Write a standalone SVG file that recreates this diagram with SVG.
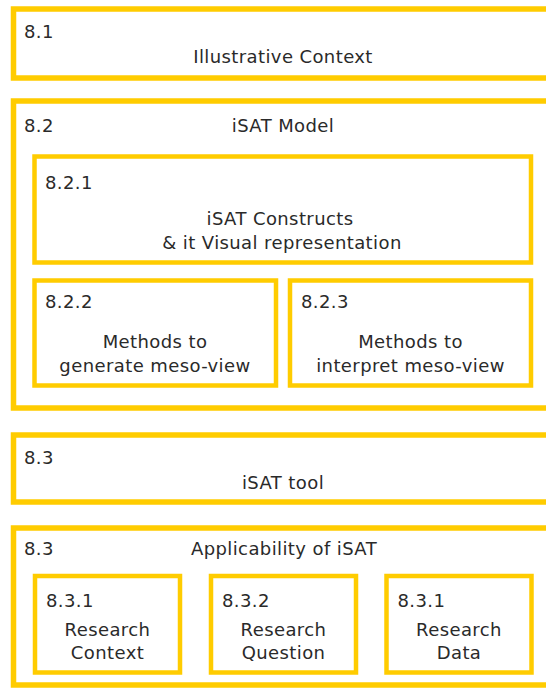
<svg xmlns="http://www.w3.org/2000/svg" width="546" height="688" viewBox="0 0 546 688">
<style>
.outer{fill:#fff;stroke:#FFCC00;stroke-width:5.5}
.inner{fill:#fff;stroke:#FFCC00;stroke-width:4.5}
text{font-family:"DejaVu Sans","Liberation Sans",sans-serif;font-size:18px;fill:#2a2a2a;letter-spacing:0.4px}
.c{text-anchor:middle}
</style>
<rect width="546" height="688" fill="#fff"/>
<g id="n81">
<rect class="outer" x="13.5" y="9" width="545" height="69"/>
<text x="24" y="38">8.1</text>
<text class="c" x="283" y="63">Illustrative Context</text>
</g>
<g id="n82">
<rect class="outer" x="13.5" y="101" width="545" height="307"/>
<text x="24" y="132">8.2</text>
<text class="c" x="283" y="132">iSAT Model</text>
</g>
<g id="n821">
<rect class="inner" x="34.5" y="156.5" width="496.5" height="106"/>
<text x="45" y="189">8.2.1</text>
<text class="c" x="280" y="225">iSAT Constructs</text>
<text class="c" x="282" y="249">&amp; it Visual representation</text>
</g>
<g id="n822">
<rect class="inner" x="34.5" y="280.5" width="241.5" height="105"/>
<text x="45" y="308">8.2.2</text>
<text class="c" x="155" y="348">Methods to</text>
<text class="c" x="155" y="372">generate meso-view</text>
</g>
<g id="n823">
<rect class="inner" x="290" y="280.5" width="241" height="105"/>
<text x="301" y="308">8.2.3</text>
<text class="c" x="410.5" y="348">Methods to</text>
<text class="c" x="410.5" y="372">interpret meso-view</text>
</g>
<g id="n83tool">
<rect class="outer" x="13.5" y="435" width="545" height="67"/>
<text x="24" y="464">8.3</text>
<text class="c" x="283" y="489">iSAT tool</text>
</g>
<g id="n83app">
<rect class="outer" x="13.5" y="528" width="545" height="157"/>
<text x="24" y="555">8.3</text>
<text class="c" x="284" y="555">Applicability of iSAT</text>
</g>
<g id="n831">
<rect class="inner" x="35" y="576" width="145" height="96.5"/>
<text x="46" y="607">8.3.1</text>
<text class="c" x="107.5" y="636">Research</text>
<text class="c" x="107.5" y="659">Context</text>
</g>
<g id="n832">
<rect class="inner" x="211" y="576" width="145" height="96.5"/>
<text x="222" y="607">8.3.2</text>
<text class="c" x="283.5" y="636">Research</text>
<text class="c" x="283.5" y="659">Question</text>
</g>
<g id="n833">
<rect class="inner" x="386.5" y="576" width="145" height="96.5"/>
<text x="397.5" y="607">8.3.1</text>
<text class="c" x="459" y="636">Research</text>
<text class="c" x="459" y="659">Data</text>
</g>
<g id="connectors"></g>
</svg>
